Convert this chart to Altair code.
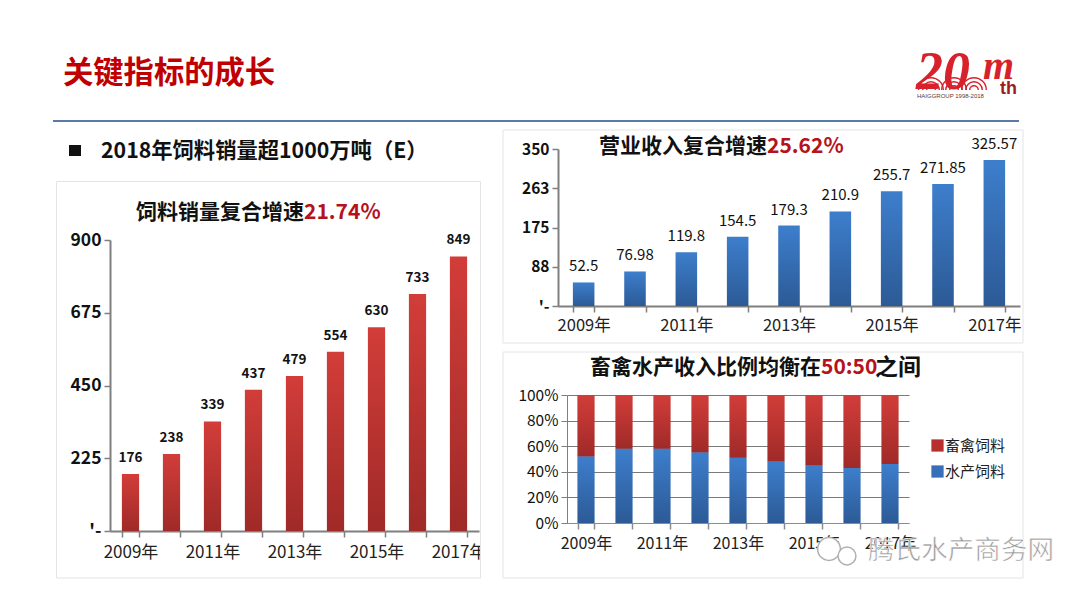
import altair as alt
import pandas as pd

years = ["2009年", "2010年", "2011年", "2012年", "2013年", "2014年", "2015年", "2016年", "2017年"]
feed_volume = [176, 238, 339, 437, 479, 554, 630, 733, 849]
revenue = [52.5, 76.98, 119.8, 154.5, 179.3, 210.9, 255.7, 271.85, 325.57]
revenue_labels = ["52.5", "76.98", "119.8", "154.5", "179.3", "210.9", "255.7", "271.85", "325.57"]
aqua_share = [0.52, 0.58, 0.58, 0.55, 0.51, 0.48, 0.45, 0.43, 0.46]
series_names = ["畜禽饲料", "水产饲料"]

FONT = "Noto Sans CJK SC"
W, H = 1064, 583
RED = "#b5121b"
one = pd.DataFrame({"a": [0]})


def X(v):
    return alt.value(v - 8)


def Y(v):
    return alt.value(v - 8)


def grad(top, bottom):
    return alt.Gradient(
        gradient="linear", x1=0, x2=0, y1=0, y2=1,
        stops=[alt.GradientStop(color=top, offset=0), alt.GradientStop(color=bottom, offset=1)],
    )


RED_G = grad("#d23d39", "#9f2a28")
BLUE_G = grad("#3d7ecc", "#2c5a96")


def text(s, x, y, size, color="#111111", weight="bold", align="left", font=FONT, style="normal", **extra):
    return alt.Chart(one).mark_text(
        text=s, fontSize=size, fontWeight=weight, color=color, align=align,
        baseline="middle", font=font, fontStyle=style, **extra,
    ).encode(x=X(x), y=Y(y))


def box(x1, y1, x2, y2, stroke="#e4e4e4"):
    return alt.Chart(one).mark_rect(fillOpacity=0, stroke=stroke, strokeWidth=1).encode(
        x=X(x1), x2=X(x2), y=Y(y1), y2=Y(y2)
    )


def x_scale(a, b, pad):
    return alt.Scale(domain=years, range=[a - 8, b - 8], paddingInner=pad, paddingOuter=pad / 2)


def x_axis(bottom, size, padding, color="#7f7f7f", width=2):
    return alt.Axis(
        orient="bottom", offset=bottom - 8 - H, title=None, tickBand="extent", labelAngle=0,
        labelExpr="parseInt(datum.label) % 2 == 1 ? datum.label : ''", labelOverlap=False,
        labelFont=FONT, labelFontSize=size, labelColor="#222222", labelPadding=padding,
        domainColor=color, domainWidth=width, tickColor=color, tickWidth=1.5, tickSize=6, grid=False,
        labelBound=False, labelFlush=False,
    )


def y_axis(left, values, size, weight="bold", grid=False, fmt=None, dash_zero=True, width=2):
    args = dict(
        orient="left", offset=8 - left, title=None, values=values, labelFont=FONT, labelFontSize=size,
        labelFontWeight=weight, labelColor="#111111", domainColor="#7f7f7f", domainWidth=width,
        tickColor="#7f7f7f", tickWidth=1.5 if width > 1 else 1, tickSize=6, grid=grid, labelPadding=3,
        gridColor="#7a7a7a", gridWidth=1, labelOverlap=False,
    )
    if dash_zero:
        args["labelExpr"] = "datum.value == 0 ? \"'-\" : datum.label"
    if fmt:
        args["format"] = fmt
    return alt.Axis(**args)


def value_bars(values, labels, xa, xb, pad, ya, yb, top, ticks, fill, label_size, label_weight, label_dy,
               axis_size_x, axis_size_y, x_pad):
    df = pd.DataFrame({"year": years, "v": values, "label": labels})
    xs = x_scale(xa, xb, pad)
    ys = alt.Scale(domain=[0, top], range=[yb - 8, ya - 8], nice=False)
    bar = alt.Chart(df).mark_bar(color=fill).encode(
        x=alt.X("year:N", scale=xs, sort=years, axis=x_axis(yb, axis_size_x, x_pad)),
        y=alt.Y("v:Q", scale=ys, axis=y_axis(xa, ticks, axis_size_y)),
    )
    lab = alt.Chart(df).mark_text(
        font=FONT, fontSize=label_size, fontWeight=label_weight, color="#111111", dy=label_dy, baseline="middle"
    ).encode(
        x=alt.X("year:N", scale=xs, sort=years, axis=None),
        y=alt.Y("v:Q", scale=ys, axis=None),
        text="label:N",
    )
    return [bar, lab]


# ---- page furniture
furniture = [
    text("关键指标的成长", 63, 73.5, 30.3, color="#c00000"),
    alt.Chart(one).mark_rule(color="#5b7aa8", strokeWidth=2).encode(x=X(53), x2=X(1019), y=Y(121)),
    alt.Chart(one).mark_rect(fill="#111111").encode(x=X(69), x2=X(81), y=Y(145), y2=Y(156)),
    text("2018年饲料销量超1000万吨（E）", 101, 151.5, 21.3),
    box(56.5, 181.5, 480.5, 578),
    box(503, 130, 1023, 343),
    box(503, 352, 1023, 578),
]

# ---- left panel
left = value_bars(
    feed_volume, [str(v) for v in feed_volume], 110, 479, 0.58, 240, 531, 900,
    [0, 225, 450, 675, 900], RED_G, 13.5, "bold", -16, 17, 17.5, 7.5,
)
left_title = [
    text("饲料销量复合增速", 304, 212.5, 21, align="right"),
    text("21.74%", 304, 212.5, 21, color=RED),
]
left_clip = [alt.Chart(one).mark_rect(fill="white").encode(x=X(481), x2=X(499), y=Y(540), y2=Y(570))]

# ---- top right panel
right_top = value_bars(
    revenue, revenue_labels, 558, 1020, 0.58, 149, 306, 350,
    [0, 88, 175, 263, 350], BLUE_G, 15, "normal", -16, 16.5, 15.5, 5,
)
top_title = [
    text("营业收入复合增速", 767, 147, 21, align="right"),
    text("25.62%", 767, 147, 21, color=RED),
]

# ---- bottom right panel
rows = []
for y, a in zip(years, aqua_share):
    rows.append({"year": y, "series": series_names[1], "y0": 0.0, "y1": a})
    rows.append({"year": y, "series": series_names[0], "y0": a, "y1": 1.0})
share = pd.DataFrame(rows)
xs3 = x_scale(567, 909, 0.56)
ys3 = alt.Scale(domain=[0, 1], range=[523 - 8, 395 - 8], nice=False)
stack_base = alt.Chart(share).mark_bar().encode(
    x=alt.X("year:N", scale=xs3, sort=years, axis=x_axis(523, 16, 6, color="#8c8c8c", width=1)),
    y=alt.Y("y0:Q", scale=ys3, axis=y_axis(567, [0, 0.2, 0.4, 0.6, 0.8, 1], 15.5, weight="normal", grid=True,
                                            fmt=".0%", dash_zero=False, width=1)),
    y2="y1:Q",
    color=alt.Color(
        "series:N",
        scale=alt.Scale(domain=series_names, range=["#b8302e", "#3570b8"]),
        legend=alt.Legend(
            orient="none", legendX=922, legendY=430, title=None, symbolType="square", symbolSize=150,
            symbolStrokeWidth=0, labelFont=FONT, labelFontSize=15, labelColor="#222222", rowPadding=10,
            labelOffset=0,
        ),
    ),
)


def overlay(name, fill):
    return alt.Chart(share).transform_filter(alt.datum.series == name).mark_bar(color=fill).encode(
        x=alt.X("year:N", scale=xs3, sort=years, axis=None),
        y=alt.Y("y0:Q", scale=ys3, axis=None),
        y2="y1:Q",
    )


bottom = [stack_base, overlay(series_names[0], RED_G), overlay(series_names[1], BLUE_G)]
bottom_title = [
    text("畜禽水产收入比例均衡在", 821, 368, 21, align="right"),
    text("50:50", 821, 368, 21, color=RED),
    text("之间", 875, 368, 23),
]


# ---- watermark and logo
def ring(x, y, size):
    return alt.Chart(one).mark_point(
        shape="circle", size=size, stroke="#b0b0b0", fill="white", fillOpacity=1, strokeWidth=1.5
    ).encode(x=X(x), y=Y(y))


watermark = [
    ring(829, 549, 520), ring(847, 556, 320),
    text("腾氏水产商务网", 868, 551, 26.6, color="#9a9a9a", weight="normal", stroke="white", strokeWidth=0.6),
]


def scallop(x, r):
    return alt.Chart(one).mark_arc(
        theta=4.71239, theta2=7.85398, radius=r, radius2=r - 1.4, color="#d7222b"
    ).encode(x=X(x), y=Y(90))


logo = [scallop(x, r) for x in (931, 954, 974) for r in (13, 9, 5)] + [
    text("20", 916, 73, 54, color="#d7222b", font="Liberation Serif", style="italic"),
    text("m", 983, 67, 40, color="#d7222b", font="Liberation Serif", style="italic"),
    text("th", 1000, 89, 18, color="#9c1c20", font="Liberation Sans"),
    text("HAIGGROUP 1998-2018", 917, 95.5, 6, color="#5a3a3a", font="Liberation Sans", weight="normal"),
]

layers = furniture + left + left_title + left_clip + right_top + top_title + bottom + bottom_title + watermark + logo

chart = (
    alt.layer(*layers)
    .resolve_scale(x="independent", y="independent", color="independent")
    .resolve_axis(x="independent", y="independent")
    .properties(width=W, height=H, padding=0, background="white", autosize=alt.AutoSizeParams(type="none"))
    .configure_view(stroke=None)
)

chart.save("out.html", embed_options={"renderer": "svg", "actions": False})
